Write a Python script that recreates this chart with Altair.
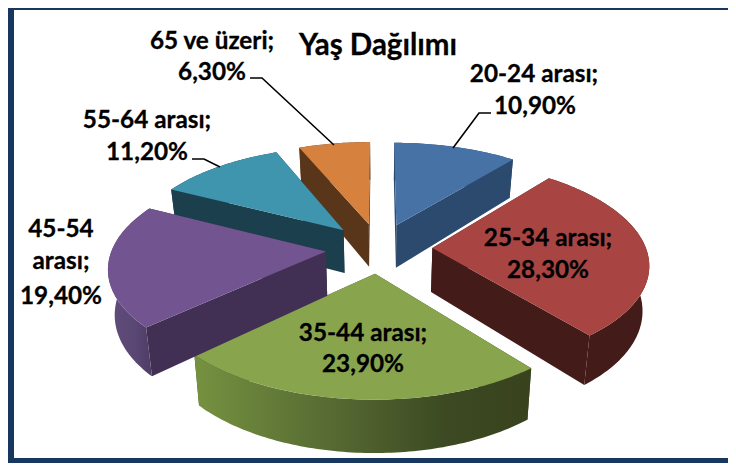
import math
import altair as alt

# ---- data
categories = ["20-24 arası", "25-34 arası", "35-44 arası", "45-54 arası", "55-64 arası", "65 ve üzeri"]
values = [10.9, 28.3, 23.9, 19.4, 11.2, 6.3]
labels = ["10,90%", "28,30%", "23,90%", "19,40%", "11,20%", "6,30%"]
top_colors = ["#4672A6", "#A84543", "#88A54E", "#725590", "#3F94AE", "#D6813D"]
wall_colors = ["#2B4A6E", "#431B18", "#38431E", "#423054", "#1B3F4C", "#59351A"]
paint_order = [5, 4, 0, 1, 2, 3]
title_text = "Yaş Dağılımı"
frame_color = "#17375E"

# ---- perspective pie geometry (canvas pixels = page pixels - 8)
CX, CY = 371, 240
KX, KY = 213.5, 100
PERSP = 0.141
EXPLODE = 0.25
DEPTH = 44
SHRINK = 0.975
W, H = 720, 455


def project(u, v, bottom=False):
    w = 1 + PERSP * v
    k = KX * (SHRINK if bottom else 1)
    return [CX + k * u / w, CY - KY * v / w + (DEPTH / w if bottom else 0)]


def world(theta, phi, r=1.0):
    t, p = math.radians(theta), math.radians(phi)
    return (r * math.sin(t) + EXPLODE * math.sin(p), r * math.cos(t) + EXPLODE * math.cos(p))


def feature(coords, closed=True):
    if closed:
        geom = {"type": "Polygon", "coordinates": [coords + [coords[0]]]}
    else:
        geom = {"type": "LineString", "coordinates": coords}
    return {"type": "Feature", "geometry": geom, "properties": {}}


def shape(coords, fill):
    data = alt.InlineData(values={"type": "FeatureCollection", "features": [feature(coords)]},
                          format=alt.DataFormat(type="json", property="features"))
    return alt.Chart(data).mark_geoshape(fill=fill, stroke=None, strokeWidth=0).project(
        type="identity", scale=1, translate=[0, 0])


def leader(coords):
    data = alt.InlineData(values={"type": "FeatureCollection", "features": [feature(coords, False)]},
                          format=alt.DataFormat(type="json", property="features"))
    return alt.Chart(data).mark_geoshape(filled=False, stroke="#000000", strokeWidth=1.6).project(
        type="identity", scale=1, translate=[0, 0])


def grad(stops):
    return alt.Gradient(gradient="linear", x1=0, y1=0, x2=1, y2=0,
                        stops=[alt.GradientStop(offset=o, color=c) for o, c in stops])


rim_fill = {
    2: grad([(0, "#76923F"), (0.12, "#6C863C"), (0.45, "#536630"), (0.75, "#3C4922"), (1, "#38431E")]),
    3: grad([(0, "#624D7C"), (0.6, "#594672"), (1, "#4B3A63")]),
}

total = sum(values)
starts, acc = [], 0.0
for v in values:
    starts.append(acc)
    acc += v / total * 360

layers = []
for i in paint_order:
    a0 = starts[i]
    a1 = a0 + values[i] / total * 360
    phi = (a0 + a1) / 2
    n = max(int(a1 - a0), 2)
    thetas = [a0 + (a1 - a0) * j / n for j in range(n + 1)]
    apex = world(0, phi, 0)
    top_arc = [project(*world(t, phi)) for t in thetas]
    bot_arc = [project(*world(t, phi), bottom=True) for t in thetas]
    ap_top = project(*apex)
    ap_bot = project(*apex, bottom=True)
    # radial walls
    layers.append(shape([ap_top, top_arc[0], bot_arc[0], ap_bot], wall_colors[i]))
    layers.append(shape([ap_top, top_arc[-1], bot_arc[-1], ap_bot], wall_colors[i]))
    # rim
    layers.append(shape(top_arc + bot_arc[::-1], rim_fill.get(i, wall_colors[i])))
    # top
    layers.append(shape([ap_top] + top_arc, top_colors[i]))

# leader lines (canvas pixels)
layers.append(leader([[242, 70], [254, 70], [326, 137]]))
layers.append(leader([[483, 105], [471, 105], [445, 140]]))
layers.append(leader([[184, 151], [196, 151], [212, 159]]))


def text(s, x, y, size=24.3):
    return alt.Chart(alt.Data(values=[{"t": s}])).mark_text(
        font="Lato", fontWeight="bold", fontSize=size, color="#000000", stroke="#000000", strokeWidth=0.3,
        align="center", baseline="middle").encode(text="t:N", x=alt.value(x), y=alt.value(y))


cat = [c + ";" for c in categories]
layers += [
    text(title_text, 370, 38, 29.5),
    text(cat[5], 204, 34), text(labels[5], 204, 65),
    text(cat[0], 526, 67), text(labels[0], 527, 99),
    text(cat[4], 139, 113), text(labels[4], 139, 145),
    text(categories[3].split()[0], 53, 222), text(categories[3].split()[1] + ";", 53, 254), text(labels[3], 53, 289),
    text(cat[1], 540, 231), text(labels[1], 540, 263),
    text(cat[2], 355, 326), text(labels[2], 355, 357),
]


def bar(x, x2, y, y2):
    return alt.Chart(alt.Data(values=[{"a": 1}])).mark_rect(color=frame_color).encode(
        x=alt.value(x), x2=alt.value(x2), y=alt.value(y), y2=alt.value(y2))


layers += [bar(0, 6, 0, H), bar(0, W, H - 5, H), bar(0, W, 0, 2)]

chart = alt.layer(*layers).properties(
    width=W, height=H, padding=0, background="#FFFFFF",
    autosize=alt.AutoSizeParams(type="none"),
).configure_view(stroke=None)

chart.save("out.html", embed_options={"renderer": "svg", "actions": False})
